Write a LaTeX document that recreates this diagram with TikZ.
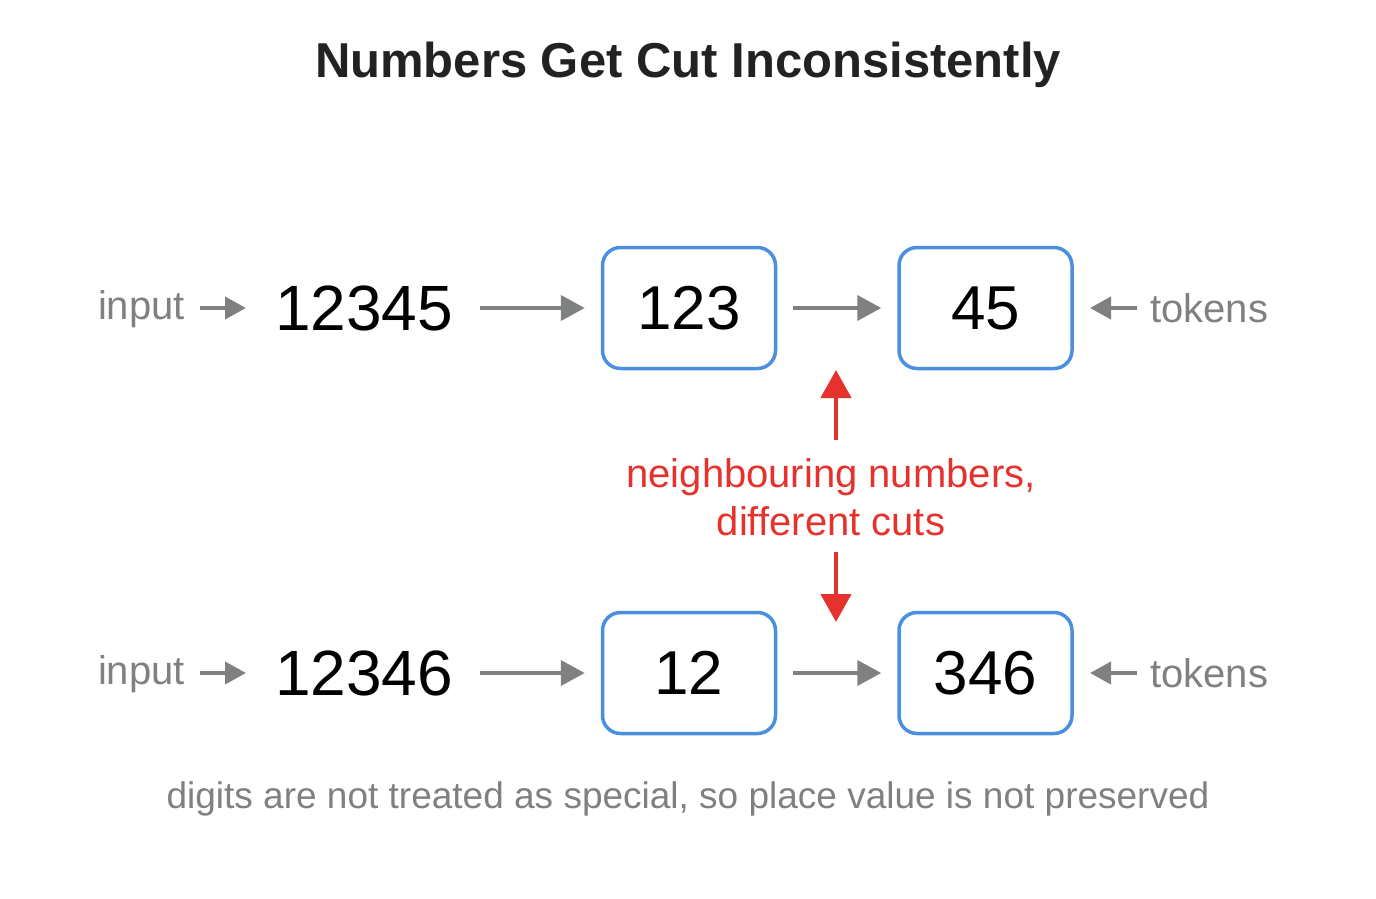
\documentclass[tikz,border=0pt]{standalone}
\usepackage{fontspec}
\setmainfont{Liberation Sans}
\usetikzlibrary{arrows.meta}
\definecolor{txtgray}{HTML}{7F8081}
\definecolor{boxblue}{HTML}{4A8FE0}
\definecolor{cutred}{HTML}{E5322D}
\definecolor{titlecol}{HTML}{222222}
\tikzset{
  x=1pt, y=-1pt,
  tokbox/.style={draw=boxblue, line width=3.5pt, rounded corners=18pt, minimum width=173pt, minimum height=121pt, inner sep=0pt, font=\fontsize{62}{70}\selectfont, text=black},
  numtxt/.style={inner sep=0pt, font=\fontsize{64}{72}\selectfont, text=black},
  lbl/.style={inner sep=0pt, font=\fontsize{40}{48}\selectfont, text=txtgray},
  garrow/.style={draw=txtgray, line width=4pt, -{Triangle[length=24pt,width=25pt]}},
  sarrow/.style={draw=txtgray, line width=4pt, -{Triangle[length=21pt,width=22pt]}},
  rarrow/.style={draw=cutred, line width=4.5pt, -{Triangle[length=28pt,width=30pt]}},
}
\begin{document}
\begin{tikzpicture}
\useasboundingbox (0,0) rectangle (1376,899);
\node[inner sep=0pt, font=\bfseries\fontsize{49}{56}\selectfont, text=titlecol] (title) at (688,65) {Numbers Get Cut Inconsistently};

% row 1
\node[lbl, anchor=east] (in1) at (185,309) {input};
\coordinate (in1s) at (200,308);
\coordinate (in1e) at (246,308);
\node[numtxt] (n1) at (364,308) {12345};
\coordinate (n1a) at (480,308);
\node[tokbox] (b11) at (689,308) {123};
\node[tokbox] (b12) at (985.5,308) {45};
\node[lbl, anchor=west] (tk1) at (1150,308) {tokens};
\coordinate (tk1s) at (1137,308);
\coordinate (tk1e) at (1090,308);
\draw[sarrow] (in1s) -- (in1e);
\draw[garrow] (n1a) -- ([xshift=-16pt]b11.west);
\draw[garrow] ([xshift=16pt]b11.east) -- ([xshift=-16pt]b12.west);
\draw[sarrow] (tk1s) -- (tk1e);

% row 2
\node[lbl, anchor=east] (in2) at (185,674) {input};
\coordinate (in2s) at (200,673);
\coordinate (in2e) at (246,673);
\node[numtxt] (n2) at (364,673) {12346};
\coordinate (n2a) at (480,673);
\node[tokbox] (b21) at (689,673) {12};
\node[tokbox] (b22) at (985.5,673) {346};
\node[lbl, anchor=west] (tk2) at (1150,673) {tokens};
\coordinate (tk2s) at (1137,673);
\coordinate (tk2e) at (1090,673);
\draw[sarrow] (in2s) -- (in2e);
\draw[garrow] (n2a) -- ([xshift=-16pt]b21.west);
\draw[garrow] ([xshift=16pt]b21.east) -- ([xshift=-16pt]b22.west);
\draw[sarrow] (tk2s) -- (tk2e);

% middle note
\node[inner sep=0pt, align=center, text=cutred, font=\fontsize{40}{48}\selectfont] (note) at (831,497) {neighbouring numbers,\\different cuts};
\coordinate (up1) at (836,440);
\coordinate (up2) at (836,370);
\coordinate (dn1) at (836,552);
\coordinate (dn2) at (836,622);
\draw[rarrow] (up1) -- (up2);
\draw[rarrow] (dn1) -- (dn2);

% bottom caption
\node[lbl, font=\fontsize{37}{44}\selectfont] (cap) at (688,799) {digits are not treated as special, so place value is not preserved};
\end{tikzpicture}
\end{document}
